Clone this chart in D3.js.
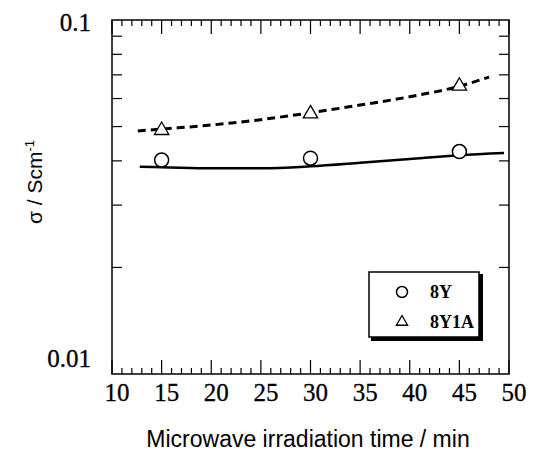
<!DOCTYPE html>
<html><head><meta charset="utf-8">
<script src="https://cdn.jsdelivr.net/npm/d3@7"></script>
<style>body{margin:0;background:#fff}</style>
</head><body>
<svg id="c" width="534" height="456"></svg>
<script>
// data
const times = [15, 30, 45];
const sigma8Y = [0.0402, 0.0407, 0.0425];
const sigma8Y1A = [0.0491, 0.0547, 0.0655];
const fit8Y_x = [12.8, 15, 20, 25, 30, 35, 40, 45, 49.5];
const fit8Y_y = [0.0385, 0.0384, 0.0381, 0.0381, 0.0386, 0.0395, 0.0405, 0.0415, 0.0421];
const fit8Y1A_x = [12.6, 15, 20, 25, 30, 35, 40, 45, 48];
const fit8Y1A_y = [0.0486, 0.0492, 0.0505, 0.0523, 0.0547, 0.0575, 0.0607, 0.0650, 0.0690];
const xTicks = [10, 15, 20, 25, 30, 35, 40, 45, 50];
const yTickValues = [0.1, 0.01];
const yTickLabels = ["0.1", "0.01"];
const legendLabels = ["8Y", "8Y1A"];

const svg = d3.select("#c");
const L = 112, R = 509, T = 20, B = 374;
const x = d3.scaleLinear().domain([10, 50]).range([L, R]);
const y = d3.scaleLog().domain([0.01, 0.1]).range([B, T]);

// frame
svg.append("rect").attr("x", L).attr("y", T).attr("width", R - L).attr("height", B - T)
  .attr("fill", "none").attr("stroke", "#000").attr("stroke-width", 1.5);

// x ticks (bottom and top, inward)
const minorX = d3.range(10, 50.01, 1);
minorX.forEach(v => {
  const major = v % 5 === 0;
  const len = major ? 14 : 6;
  svg.append("line").attr("x1", x(v)).attr("x2", x(v)).attr("y1", B).attr("y2", B - len)
    .attr("stroke", "#000").attr("stroke-width", 1.2);
  svg.append("line").attr("x1", x(v)).attr("x2", x(v)).attr("y1", T).attr("y2", T + len)
    .attr("stroke", "#000").attr("stroke-width", 1.2);
});
// y ticks (log minor)
const yMinor = d3.range(2, 10).map(d => d * 0.01);
yMinor.forEach(v => {
  svg.append("line").attr("x1", L).attr("x2", L + 10).attr("y1", y(v)).attr("y2", y(v))
    .attr("stroke", "#000").attr("stroke-width", 1.2);
  svg.append("line").attr("x1", R).attr("x2", R - 10).attr("y1", y(v)).attr("y2", y(v))
    .attr("stroke", "#000").attr("stroke-width", 1.2);
});

// tick labels
const serif = "'Liberation Serif','Times New Roman',serif";
const sans = "'Liberation Sans',Arial,sans-serif";
svg.selectAll(".xl").data(xTicks).enter().append("text")
  .attr("x", d => x(d) + 5).attr("y", B + 27)
  .attr("text-anchor", "middle").attr("font-family", serif).attr("font-size", 25)
  .attr("stroke", "#000").attr("stroke-width", 0.3)
  .text(d => d);
svg.selectAll(".yl").data(yTickValues).enter().append("text")
  .attr("x", 91).attr("y", (d, i) => i === 0 ? y(d) + 11 : y(d) - 7)
  .attr("text-anchor", "end").attr("font-family", serif).attr("font-size", 25)
  .attr("stroke", "#000").attr("stroke-width", 0.3)
  .text((d, i) => yTickLabels[i]);

// axis titles
svg.append("text").attr("x", 308).attr("y", 447).attr("text-anchor", "middle")
  .attr("font-family", sans).attr("font-size", 23).text("Microwave irradiation time / min");
const yt = svg.append("text").attr("transform", "translate(42,182) rotate(-90)")
  .attr("text-anchor", "middle").attr("font-family", sans).attr("font-size", 21);
yt.append("tspan").text("σ / Scm");
yt.append("tspan").attr("dy", -8).attr("font-size", 13).text("-1");

// fit lines
const line = d3.line().x(d => x(d[0])).y(d => y(d[1])).curve(d3.curveMonotoneX);
svg.append("path").attr("d", line(d3.zip(fit8Y_x, fit8Y_y)))
  .attr("fill", "none").attr("stroke", "#000").attr("stroke-width", 2.5);
svg.append("path").attr("d", line(d3.zip(fit8Y1A_x, fit8Y1A_y)))
  .attr("fill", "none").attr("stroke", "#000").attr("stroke-width", 3)
  .attr("stroke-dasharray", "8,5");

// markers
const tri = d3.symbol().type(d3.symbolTriangle).size(90);
svg.selectAll(".c").data(times).enter().append("circle")
  .attr("cx", d => x(d)).attr("cy", (d, i) => y(sigma8Y[i])).attr("r", 7)
  .attr("fill", "#fff").attr("stroke", "#000").attr("stroke-width", 1.5);
svg.selectAll(".t").data(times).enter().append("path")
  .attr("d", tri).attr("transform", (d, i) => `translate(${x(d)},${y(sigma8Y1A[i]) + 1})`)
  .attr("fill", "#fff").attr("stroke", "#000").attr("stroke-width", 1.3);

// legend
const lg = svg.append("g");
lg.append("rect").attr("x", 371).attr("y", 274).attr("width", 112).attr("height", 67).attr("fill", "#000");
lg.append("rect").attr("x", 369).attr("y", 272).attr("width", 110).attr("height", 65)
  .attr("fill", "#fff").attr("stroke", "#000").attr("stroke-width", 1.5);
lg.append("circle").attr("cx", 402).attr("cy", 292).attr("r", 5.5)
  .attr("fill", "#fff").attr("stroke", "#000").attr("stroke-width", 1.5);
lg.append("path").attr("d", d3.symbol().type(d3.symbolTriangle).size(55))
  .attr("transform", "translate(402,322)").attr("fill", "#fff").attr("stroke", "#000").attr("stroke-width", 1.3);
legendLabels.forEach((t, i) => {
  lg.append("text").attr("x", 430).attr("y", 298 + i * 30).attr("font-family", serif)
    .attr("font-weight", "bold").attr("font-size", 18).text(t);
});
</script>
</body></html>
